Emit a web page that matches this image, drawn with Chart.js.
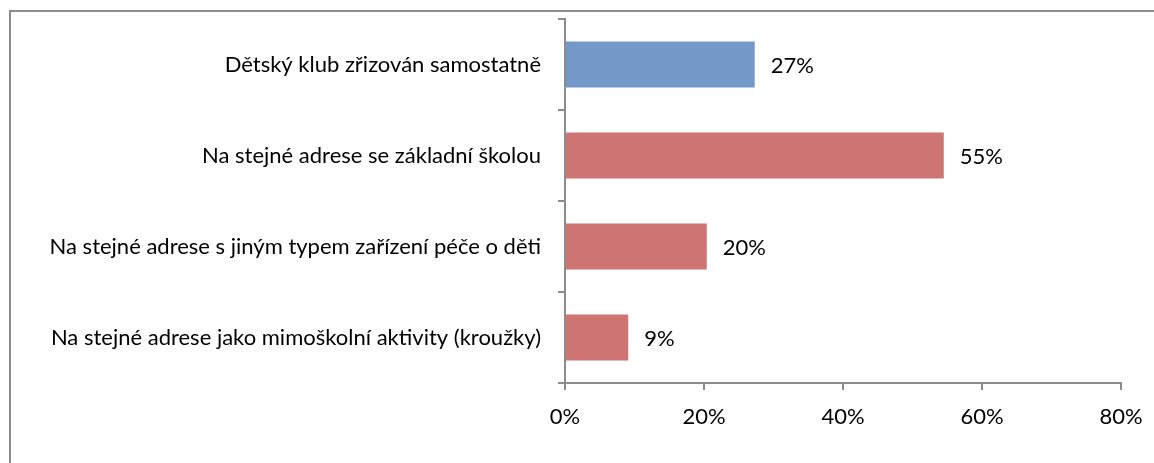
<!DOCTYPE html>
<html>
<head>
<meta charset="utf-8">
<script src="https://cdn.jsdelivr.net/npm/chart.js@4/dist/chart.umd.min.js"></script>
<style>
  html, body { margin: 0; padding: 0; background: #fff; overflow: hidden; }
  #wrap { position: relative; width: 1154px; height: 463px; }
  #frame { position: absolute; left: 9px; top: 10px; width: 1200px; height: 500px; border: 2px solid #8c8c8c; box-sizing: border-box; }
  canvas { position: absolute; left: 0; top: 0; }
</style>
</head>
<body>
<div id="wrap">
  <div id="frame"></div>
  <canvas id="c" width="1154" height="463"></canvas>
</div>
<script>
const categories = [
  "Dětský klub zřizován samostatně",
  "Na stejné adrese se základní školou",
  "Na stejné adrese s jiným typem zařízení péče o děti",
  "Na stejné adrese jako mimoškolní aktivity (kroužky)"
];
const values = [27.3, 54.5, 20.4, 9.1];
const valueLabels = ["27%", "55%", "20%", "9%"];
const barColors = ["#7499c8", "#ce7573", "#ce7573", "#ce7573"];
const xTicks = [0, 20, 40, 60, 80];

const FONT = "Lato, 'Open Sans', sans-serif";
const FS = 22;
const AXIS = "#8c8c8c";

const valueLabelPlugin = {
  id: 'valueLabels',
  afterDatasetsDraw(chart) {
    const ctx = chart.ctx;
    const meta = chart.getDatasetMeta(0);
    ctx.save();
    ctx.font = FS + "px " + FONT;
    ctx.fillStyle = "#000";
    ctx.textAlign = "left";
    ctx.textBaseline = "middle";
    meta.data.forEach((bar, i) => {
      ctx.fillText(valueLabels[i], bar.x + 16, bar.y + 1);
    });
    ctx.restore();
  }
};

new Chart(document.getElementById('c'), {
  type: 'bar',
  data: {
    labels: categories,
    datasets: [{
      data: values,
      backgroundColor: barColors,
      borderWidth: 0,
      categoryPercentage: 0.505,
      barPercentage: 1
    }]
  },
  options: {
    indexAxis: 'y',
    responsive: false,
    animation: false,
    devicePixelRatio: 1,
    layout: { padding: { left: 0, right: 33, top: 19, bottom: 0 } },
    plugins: { legend: { display: false }, tooltip: { enabled: false } },
    scales: {
      x: {
        min: 0, max: 80,
        afterBuildTicks(scale) { scale.ticks = xTicks.map(v => ({ value: v })); },
        afterFit(scale) { scale.height = 80; scale.paddingLeft = 0; scale.paddingRight = 0; },
        grid: { drawOnChartArea: false, drawTicks: true, tickLength: 7, color: AXIS, lineWidth: 2 },
        border: { color: AXIS, width: 2 },
        ticks: {
          font: { family: FONT, size: FS },
          color: "#000",
          padding: 14,
          callback: v => v + "%"
        }
      },
      y: {
        offset: true,
        afterFit(scale) { scale.width = 565; scale.paddingTop = 0; scale.paddingBottom = 0; },
        grid: { offset: true, drawOnChartArea: false, drawTicks: true, tickLength: 7, color: AXIS, lineWidth: 2 },
        border: { color: AXIS, width: 2 },
        ticks: {
          font: { family: FONT, size: FS },
          color: "#000",
          padding: 17
        }
      }
    }
  },
  plugins: [valueLabelPlugin]
});
</script>
</body>
</html>
